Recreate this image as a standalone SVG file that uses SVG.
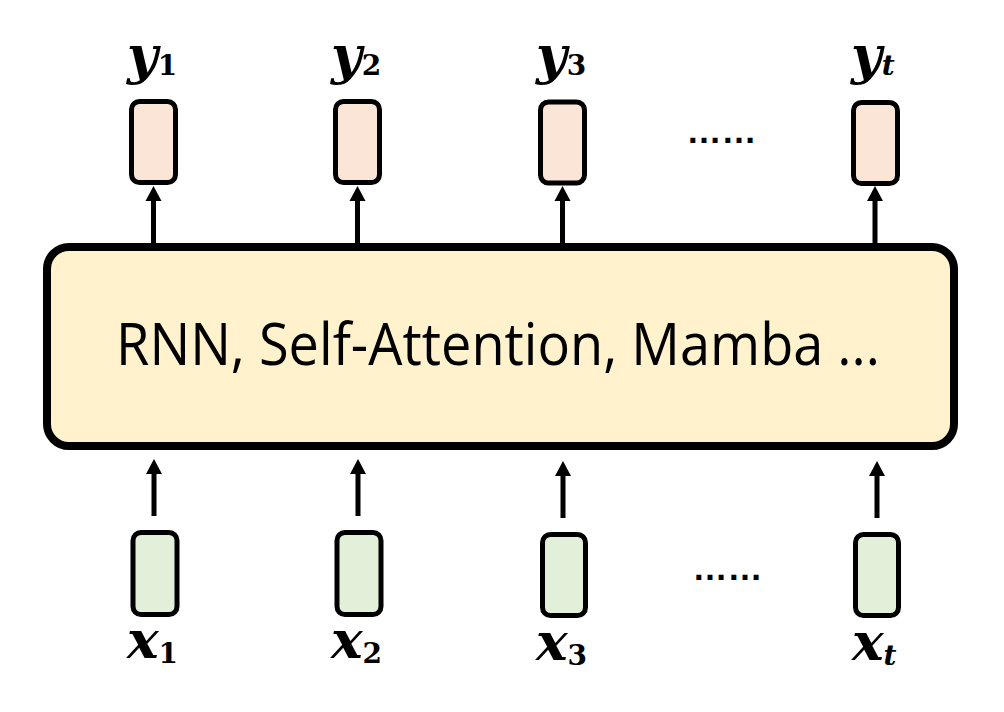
<svg xmlns="http://www.w3.org/2000/svg" width="1004" height="712" viewBox="0 0 1004 712">
<style>
.out{fill:#FBE5D6;stroke:#000;stroke-width:5}
.in{fill:#E2F0D9;stroke:#000;stroke-width:5}
.main{fill:#FFF2CC;stroke:#000;stroke-width:8}
.ln{stroke:#000;stroke-width:5;fill:none}
.head{fill:#000}
.var{font-family:"DejaVu Serif",serif;font-weight:bold;font-style:italic;font-size:53px;fill:#000}
.sub{font-size:28px}
.num{font-style:normal}
.dots{font-family:"Liberation Sans",Arial,sans-serif;font-weight:bold;font-size:35px;fill:#000}
.title{font-family:"Open Sans","Noto Sans",sans-serif;font-size:59px;fill:#000}
</style>
<rect width="1004" height="712" fill="#fff"/>
<g id="model">
<rect class="main" x="47" y="247" width="907" height="199" rx="22"/>
<text class="title" x="116" y="365" textLength="764" lengthAdjust="spacingAndGlyphs">RNN, Self-Attention, Mamba ...</text>
</g>
<g id="connectors">
<line class="ln" x1="153.5" y1="243" x2="153.5" y2="197"/><polygon class="head" points="153.5,186 145.5,201 161.5,201"/>
<line class="ln" x1="357.5" y1="243" x2="357.5" y2="197"/><polygon class="head" points="357.5,186 349.5,201 365.5,201"/>
<line class="ln" x1="562.5" y1="243" x2="562.5" y2="197"/><polygon class="head" points="562.5,186 554.5,201 570.5,201"/>
<line class="ln" x1="875" y1="243" x2="875" y2="197"/><polygon class="head" points="875,186 867,201 883,201"/>
<line class="ln" x1="154" y1="516" x2="154" y2="471"/><polygon class="head" points="154,459 146,474 162,474"/>
<line class="ln" x1="358" y1="516" x2="358" y2="471"/><polygon class="head" points="358,459 350,474 366,474"/>
<line class="ln" x1="563" y1="518" x2="563" y2="473"/><polygon class="head" points="563,461 555,476 571,476"/>
<line class="ln" x1="877" y1="518" x2="877" y2="473"/><polygon class="head" points="877,461 869,476 885,476"/>
</g>
<g id="y1"><rect class="out" x="131.5" y="101.5" width="44" height="81" rx="8"/><text class="var" x="127" y="73">y<tspan class="sub num" dy="2">1</tspan></text></g>
<g id="y2"><rect class="out" x="335.5" y="101.5" width="44" height="81" rx="8"/><text class="var" x="331" y="73">y<tspan class="sub num" dy="2">2</tspan></text></g>
<g id="y3"><rect class="out" x="540.5" y="102" width="44" height="81" rx="8"/><text class="var" x="536" y="73">y<tspan class="sub num" dy="2">3</tspan></text></g>
<g id="yt"><rect class="out" x="853.5" y="102.5" width="44" height="81" rx="8"/><text class="var" x="851" y="73">y<tspan class="sub" dy="2">t</tspan></text></g>
<text class="dots" x="721.5" y="143" text-anchor="middle">……</text>
<g id="x1"><rect class="in" x="133" y="532.5" width="44" height="82" rx="8"/><text class="var" x="127" y="658">x<tspan class="sub num" dy="5">1</tspan></text></g>
<g id="x2"><rect class="in" x="337" y="532.5" width="44" height="82" rx="8"/><text class="var" x="331" y="658">x<tspan class="sub num" dy="5">2</tspan></text></g>
<g id="x3"><rect class="in" x="542.5" y="534.5" width="43" height="81" rx="8"/><text class="var" x="536" y="660">x<tspan class="sub num" dy="5">3</tspan></text></g>
<g id="xt"><rect class="in" x="855.5" y="534.5" width="43" height="81" rx="8"/><text class="var" x="852" y="660">x<tspan class="sub" dy="5">t</tspan></text></g>
<text class="dots" x="727.5" y="580" text-anchor="middle">……</text>
</svg>
